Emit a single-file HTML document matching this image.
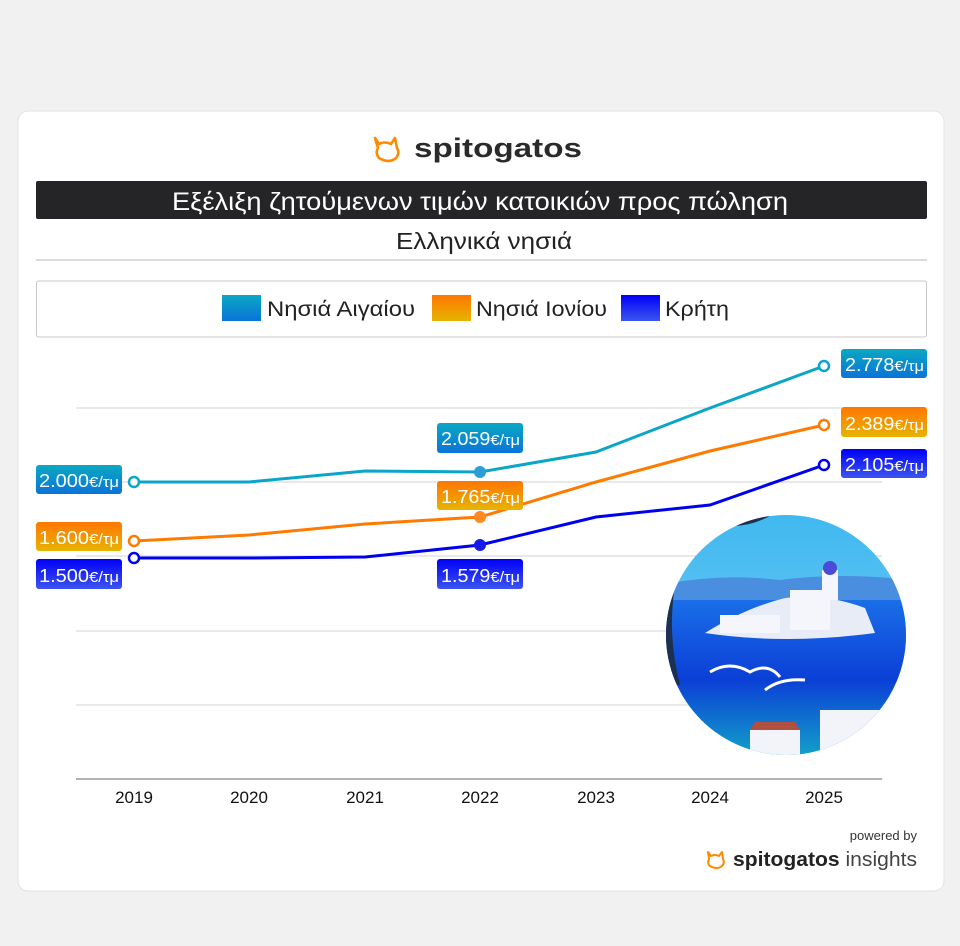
<!DOCTYPE html>
<html><head><meta charset="utf-8"><style>
html,body{margin:0;padding:0;background:#f1f1f1;}
body{width:960px;height:946px;position:relative;overflow:hidden;font-family:"Liberation Sans",sans-serif;}
</style></head><body>
<svg width="960" height="946" viewBox="0 0 960 946" xmlns="http://www.w3.org/2000/svg" style="position:absolute;left:0;top:0">
<defs>
<linearGradient id="ga" x1="0" y1="0" x2="0" y2="1"><stop offset="0" stop-color="#0aa8c2"/><stop offset="1" stop-color="#0a74d8"/></linearGradient>
<linearGradient id="go" x1="0" y1="0" x2="0" y2="1"><stop offset="0" stop-color="#ff7600"/><stop offset="1" stop-color="#e6b400"/></linearGradient>
<linearGradient id="gc" x1="0" y1="0" x2="0" y2="1"><stop offset="0" stop-color="#0000f8"/><stop offset="1" stop-color="#3c55f0"/></linearGradient>
<linearGradient id="sky" x1="0" y1="0" x2="0" y2="1"><stop offset="0" stop-color="#3fb8f0"/><stop offset="1" stop-color="#7fd0f5"/></linearGradient>
<linearGradient id="sea" x1="0" y1="0" x2="0" y2="1"><stop offset="0" stop-color="#1a6ee8"/><stop offset="0.5" stop-color="#0b3fd6"/><stop offset="1" stop-color="#13a6c8"/></linearGradient>
<clipPath id="cc"><circle cx="786" cy="635" r="120"/></clipPath>
</defs>
<rect x="18" y="111" width="926" height="780" rx="10" fill="#fff" stroke="#e2e2e2"/>
<path d="M375 138 l4 6 q6 -3 12 0 l4 -6 l2 10 q3 5 -1 10 q-7 6 -17 0 q-4 -5 -1 -10 z" fill="none" stroke="#ff8a00" stroke-width="2.6" stroke-linejoin="round"/>
<text x="414" y="157" font-size="27" font-weight="bold" fill="#2a2a2a" textLength="168" lengthAdjust="spacingAndGlyphs">spitogatos</text>
<rect x="36" y="181" width="891" height="38" rx="2" fill="#252527"/>
<text x="172" y="210" font-size="25" fill="#fff" textLength="616" lengthAdjust="spacingAndGlyphs">Εξέλιξη ζητούμενων τιμών κατοικιών προς πώληση</text>
<text x="396" y="249" font-size="23" fill="#222" textLength="176" lengthAdjust="spacingAndGlyphs">Ελληνικά νησιά</text>
<line x1="36" y1="260" x2="927" y2="260" stroke="#cfcfcf" stroke-width="1.5"/>
<rect x="36.5" y="281" width="890" height="56" rx="2" fill="#fff" stroke="#c8c8c8"/>
<rect x="222" y="295" width="39" height="26" fill="url(#ga)"/>
<text x="267" y="316" font-size="21" fill="#222" textLength="148" lengthAdjust="spacingAndGlyphs">Νησιά Αιγαίου</text>
<rect x="432" y="295" width="39" height="26" fill="url(#go)"/>
<text x="476" y="316" font-size="21" fill="#222" textLength="131" lengthAdjust="spacingAndGlyphs">Νησιά Ιονίου</text>
<rect x="621" y="295" width="39" height="26" fill="url(#gc)"/>
<text x="665" y="316" font-size="21" fill="#222" textLength="64" lengthAdjust="spacingAndGlyphs">Κρήτη</text>
<g stroke="#dcdcdc" stroke-width="1.2">
<line x1="76" y1="408" x2="882" y2="408"/><line x1="76" y1="482" x2="882" y2="482"/>
<line x1="76" y1="556" x2="882" y2="556"/><line x1="76" y1="631" x2="882" y2="631"/>
<line x1="76" y1="705" x2="882" y2="705"/>
</g>
<line x1="76" y1="779" x2="882" y2="779" stroke="#9a9a9a" stroke-width="1.5"/>
<g font-size="17" fill="#111" text-anchor="middle">
<text x="134" y="803">2019</text><text x="249" y="803">2020</text><text x="365" y="803">2021</text><text x="480" y="803">2022</text><text x="596" y="803">2023</text><text x="710" y="803">2024</text><text x="824" y="803">2025</text>
</g>
<polyline points="134,482 249,482 365,471 480,472 596,452 710,408 824,366" fill="none" stroke="#0aa5c8" stroke-width="3"/>
<polyline points="134,541 249,535 365,524 480,517 596,482 710,451 824,425" fill="none" stroke="#ff7a00" stroke-width="3"/>
<polyline points="134,558 249,558 365,557 480,545 596,517 710,505 824,465" fill="none" stroke="#0000f0" stroke-width="3"/>
<g fill="#fff" stroke-width="2.5">
<circle cx="134" cy="482" r="5" stroke="#0aa5c8"/><circle cx="824" cy="366" r="5" stroke="#0aa5c8"/>
<circle cx="134" cy="541" r="5" stroke="#ff7a00"/><circle cx="824" cy="425" r="5" stroke="#ff7a00"/>
<circle cx="134" cy="558" r="5" stroke="#0000f0"/><circle cx="824" cy="465" r="5" stroke="#0000f0"/>
</g>
<circle cx="480" cy="472" r="6" fill="#2a9fd6"/><circle cx="480" cy="517" r="6" fill="#ff8a20"/><circle cx="480" cy="545" r="6" fill="#1a1ae8"/>
<g font-size="18" fill="#fff">
<rect x="36" y="465" width="86" height="29" rx="3" fill="url(#ga)"/><text x="39" y="487" textLength="80" lengthAdjust="spacingAndGlyphs">2.000<tspan font-size="15">€/τμ</tspan></text>
<rect x="36" y="522" width="86" height="29" rx="3" fill="url(#go)"/><text x="39" y="544" textLength="80" lengthAdjust="spacingAndGlyphs">1.600<tspan font-size="15">€/τμ</tspan></text>
<rect x="36" y="559" width="86" height="30" rx="3" fill="url(#gc)"/><text x="39" y="582" textLength="80" lengthAdjust="spacingAndGlyphs">1.500<tspan font-size="15">€/τμ</tspan></text>
<rect x="437" y="423" width="86" height="30" rx="3" fill="url(#ga)"/><text x="441" y="445" textLength="79" lengthAdjust="spacingAndGlyphs">2.059<tspan font-size="15">€/τμ</tspan></text>
<rect x="437" y="481" width="86" height="29" rx="3" fill="url(#go)"/><text x="441" y="503" textLength="79" lengthAdjust="spacingAndGlyphs">1.765<tspan font-size="15">€/τμ</tspan></text>
<rect x="437" y="559" width="86" height="30" rx="3" fill="url(#gc)"/><text x="441" y="582" textLength="79" lengthAdjust="spacingAndGlyphs">1.579<tspan font-size="15">€/τμ</tspan></text>
<rect x="841" y="349" width="86" height="29" rx="3" fill="url(#ga)"/><text x="845" y="371" textLength="79" lengthAdjust="spacingAndGlyphs">2.778<tspan font-size="15">€/τμ</tspan></text>
<rect x="841" y="407" width="86" height="30" rx="3" fill="url(#go)"/><text x="845" y="430" textLength="79" lengthAdjust="spacingAndGlyphs">2.389<tspan font-size="15">€/τμ</tspan></text>
<rect x="841" y="449" width="86" height="29" rx="3" fill="url(#gc)"/><text x="845" y="471" textLength="79" lengthAdjust="spacingAndGlyphs">2.105<tspan font-size="15">€/τμ</tspan></text>
</g>
<g clip-path="url(#cc)">
<rect x="660" y="510" width="250" height="250" fill="url(#sky)"/>
<path d="M660 585 q60 -12 120 -5 q60 -8 130 0 v20 h-250z" fill="#4a8ee0"/>
<rect x="660" y="600" width="250" height="160" fill="url(#sea)"/>
<path d="M705 633 q40 -25 80 -35 q40 -5 80 10 l10 25 q-90 12 -170 0z" fill="#e8ecf7"/>
<path d="M720 615 h60 v18 h-60z M790 590 h40 v40 h-40z" fill="#f4f6fb"/>
<rect x="822" y="570" width="16" height="30" fill="#f4f6fb"/><circle cx="830" cy="568" r="7" fill="#4b4bd8"/>
<path d="M660 510 h120 q-30 20 -60 15 q-30 20 -45 60 q-8 50 5 100 h-20z" fill="#1e3050"/>
<path d="M750 730 h50 v30 h-50z M820 710 h60 v40 h-60z" fill="#f2f4fa"/>
<path d="M750 730 h50 l-5 -8 h-40z" fill="#b05040"/>
<path d="M710 672 q20 -12 40 0 q18 -10 30 5" fill="none" stroke="#fff" stroke-width="3"/>
<path d="M765 690 q15 -12 40 -10" fill="none" stroke="#fff" stroke-width="3"/>
</g>
<text x="917" y="840" font-size="13" fill="#333" text-anchor="end">powered by</text>
<path d="M708 852 l3 4 q4 -2 8 0 l3 -4 l1 7 q2 4 -1 7 q-5 4 -12 0 q-3 -3 -1 -7 z" fill="none" stroke="#ff8a00" stroke-width="2" stroke-linejoin="round"/>
<text x="733" y="866" font-size="20" font-weight="bold" fill="#222" textLength="184" lengthAdjust="spacingAndGlyphs">spitogatos<tspan font-weight="normal" fill="#444"> insights</tspan></text>
</svg>
</body></html>
